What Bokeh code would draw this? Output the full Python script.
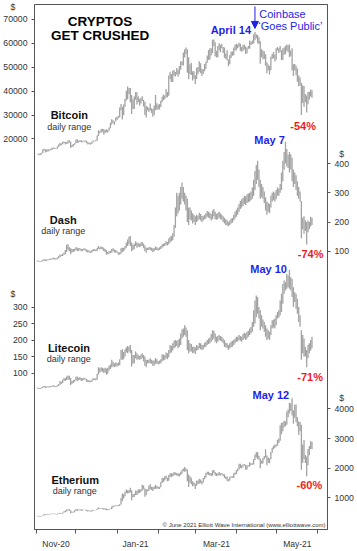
import pandas as pd
from bokeh.plotting import figure
from bokeh.models import (ColumnDataSource, Range1d, LinearAxis, FixedTicker,
                          DatetimeTickFormatter, Label, Arrow, NormalHead)
from bokeh.embed import file_html
from bokeh.resources import INLINE

# ---------------- data (daily low / high, Nov 1 2020 .. May 27 2021) ----------------
btc_low = [
    13570,13240,13300,13530,14090,15190,14390,14700,14810,15100,15290,15430,15960,15790,15800,15890,16630,17220,17350,17770,18350,17700,18040,18030,18550,16330,16510,16880,17570,18180,
    18330,18580,18930,18620,18600,18970,18890,18220,17650,17930,17570,17990,18790,19090,19060,19280,21230,22370,22750,23060,21900,22370,22800,22760,23450,24540,26050,26700,25950,27330,27970,
    28700,29040,32010,28130,29910,33450,36080,36570,38720,35360,30420,32530,32550,36390,34410,35400,33870,34880,35880,33560,30070,28950,31920,31400,31930,30890,29320,30050,32000,32300,32200,
    32300,33420,35360,36190,36610,37360,37450,38060,45010,43880,43800,46400,46120,46930,45980,47050,48990,50880,50770,54060,55550,47700,45000,47100,46800,44450,45200,43000,
    45100,47090,48100,47500,46300,47200,48320,49300,51900,53000,53200,54900,56000,58900,54600,54100,54200,57100,56300,57900,56000,54000,53500,52900,50400,51300,53900,54800,55000,57000,57100,
    57900,58600,56900,56500,56900,57400,55500,55900,57700,57700,59300,59700,59900,61300,62100,60000,59700,51500,54200,53400,53500,50600,47500,48800,47000,48800,53500,53900,52400,53100,
    57000,56000,56500,53000,53000,55200,55400,56900,56300,54200,54600,48600,46300,48800,46700,43900,42100,42300,30000,35100,33500,35400,31100,34500,36500,37800,37200]
btc_high = [
    13860,13820,14070,14240,15750,15960,15740,15650,15830,15450,15960,16310,16480,16300,16120,16880,17830,18400,18110,18800,18950,18700,18750,19400,19460,18920,17450,17860,18350,19750,
    19850,19300,19560,19500,19180,19400,19400,19300,18650,18540,18280,18930,19400,19310,19560,21500,23700,23280,24170,24260,24060,23800,24070,23790,24790,26800,28300,27800,27360,28950,29300,
    29600,33150,34600,33440,34440,36850,40180,41950,41350,41350,38350,36600,37780,39670,39570,37890,36820,37300,37830,36400,35560,33760,33450,32940,34800,32890,32550,34000,38400,34900,34300,
    34650,35970,37630,38590,38230,40880,39680,46600,48150,47230,48560,48820,48010,49700,49000,50550,52500,52500,56200,57500,58300,57500,54200,51300,51900,48300,48300,46700,
    49800,50100,52500,51700,49400,49200,51400,52300,54900,57200,58000,57900,61500,61600,60500,56900,58900,60000,59400,59800,58500,58300,55800,57100,53200,55100,56500,56600,58300,59400,59800,
    59500,60200,59800,58500,59300,59500,58700,58200,58900,61200,60700,61200,63800,64800,63800,63500,62500,61000,57500,57000,56700,55400,52100,51200,50500,54400,55500,56400,55200,58000,
    58500,57900,58900,57100,57900,58300,59000,59500,59200,59500,57000,58000,51300,51400,50600,49500,46600,45700,43500,42400,42200,38800,38200,39700,39800,40700,40400]

dash_low = [
    66,64,64,64,66,68,67,68,69,70,71,72,73,72,72,73,76,80,83,84,88,90,98,105,100,90,96,98,100,104,
    100,102,104,100,101,104,103,98,96,97,94,96,100,101,100,101,108,106,108,106,100,98,88,90,92,94,96,100,96,96,94,
    88,89,92,98,100,106,112,118,125,118,100,104,108,118,112,116,114,116,118,110,100,96,104,104,104,102,98,100,104,104,102,
    104,108,112,116,118,122,120,124,130,134,138,150,180,220,230,240,260,280,270,260,240,200,190,210,205,195,200,190,
    200,205,210,205,200,205,210,212,218,215,212,205,210,220,210,208,210,215,210,208,200,195,190,188,186,190,195,198,205,212,218,
    225,235,245,250,255,262,258,265,268,270,275,280,290,310,330,345,320,280,285,280,265,240,225,235,230,250,270,275,270,278,
    290,290,300,310,340,380,400,390,385,370,380,340,320,330,310,290,280,270,145,175,160,170,123,165,175,185,190]
dash_high = [
    69,68,67,68,71,73,72,72,73,74,75,76,78,77,76,79,84,89,88,92,96,104,122,124,115,110,108,108,109,114,
    113,110,111,108,108,110,109,106,104,103,100,104,108,107,106,112,118,114,116,115,112,108,104,98,100,102,108,110,106,104,100,
    96,97,110,112,112,118,130,140,150,152,130,122,126,134,130,128,126,130,132,126,120,112,112,114,115,112,110,110,116,114,110,
    114,118,124,126,128,134,132,144,150,152,162,190,250,300,290,300,320,335,320,300,290,280,250,250,240,230,225,220,
    225,222,232,228,222,220,225,230,238,235,232,228,240,245,235,228,232,235,230,225,220,215,210,206,200,205,212,214,225,235,242,
    250,262,272,278,282,290,288,295,298,300,305,318,345,375,395,410,380,345,330,320,305,285,270,265,262,290,300,305,300,310,
    318,315,330,370,410,440,475,450,430,440,432,420,380,370,360,340,320,305,272,215,220,205,200,205,200,218,215]

ltc_low = [
    53,52,52,53,55,57,55,56,56,57,57,58,59,58,58,59,61,65,67,70,77,76,79,80,80,64,68,70,74,78,
    76,78,80,76,77,80,80,74,72,73,72,74,78,79,78,80,96,102,105,104,100,102,95,98,108,112,118,120,118,120,120,
    122,124,140,140,142,150,162,160,165,160,120,128,130,145,140,142,140,142,145,135,122,118,130,130,130,128,122,122,128,128,126,
    128,130,136,138,140,145,142,148,160,162,168,175,178,182,175,180,185,205,210,215,210,170,160,165,165,160,162,158,
    168,170,175,172,170,172,178,180,185,188,190,195,200,205,195,190,195,200,198,196,190,180,178,175,170,175,178,180,185,190,195,
    196,200,198,195,200,205,200,205,210,215,220,225,240,250,270,280,265,230,240,235,225,210,200,205,200,215,235,238,235,245,
    265,268,275,285,310,340,350,355,360,355,350,330,300,315,295,280,255,240,140,160,150,150,118,145,160,168,175]
ltc_high = [
    56,55,55,56,59,62,60,59,60,60,60,62,63,62,61,63,67,76,74,80,86,84,90,93,92,86,76,78,80,89,
    90,86,88,85,84,86,84,82,79,78,77,80,85,83,84,98,118,115,118,116,114,116,114,116,122,126,140,134,130,132,130,
    132,142,170,172,164,172,178,182,180,185,170,155,155,165,160,155,152,156,160,155,150,140,140,140,145,140,138,138,146,142,136,
    138,142,156,156,154,162,160,170,185,182,190,198,200,198,200,205,220,232,235,245,238,230,200,190,188,180,180,178,
    185,182,192,190,186,185,192,195,200,205,208,218,230,228,220,210,212,215,212,210,205,200,192,190,185,190,195,198,200,205,210,
    210,215,212,210,218,222,220,225,228,235,240,255,290,320,335,330,300,290,275,262,255,245,235,230,225,245,260,262,265,275,
    285,290,320,340,370,380,375,400,395,413,390,385,360,345,340,325,300,275,230,215,205,180,170,185,190,200,210]

eth_low = [
    381,375,370,375,398,410,430,436,440,443,448,452,455,448,445,445,460,470,465,470,505,520,540,580,560,480,500,505,515,570,
    570,575,585,565,570,590,585,560,530,560,535,545,565,580,580,590,630,625,640,630,600,600,580,585,600,620,630,680,710,720,730,
    715,730,780,890,980,1060,1170,1150,1170,1180,920,1020,1030,1100,1100,1150,1170,1210,1240,1290,1040,1090,1220,1240,1290,1270,1230,1290,1300,1320,1310,
    1300,1360,1500,1540,1590,1640,1560,1580,1710,1700,1730,1760,1780,1760,1740,1720,1770,1820,1900,1880,1900,1560,1370,1510,1460,1390,1420,1300,
    1410,1470,1480,1500,1450,1520,1630,1690,1790,1770,1760,1730,1760,1840,1760,1740,1760,1760,1760,1790,1740,1670,1640,1580,1550,1590,1680,1680,1670,1790,1800,
    1900,1960,2010,1990,2050,2090,1950,1960,2060,2060,2110,2120,2130,2280,2360,2310,2290,2000,2150,2160,2300,2360,2100,2190,2170,2300,2520,2640,2680,2730,
    2760,2850,2930,3150,3250,3380,3420,3470,3720,3850,3930,3780,3500,3700,3550,3420,3120,3250,1950,2190,2300,2180,1730,2100,2440,2650,2640]
eth_high = [
    397,398,390,395,418,455,456,460,462,455,467,470,478,467,458,466,485,500,485,512,550,575,610,620,615,580,530,530,580,620,
    630,600,620,617,600,605,600,600,580,580,570,580,600,595,595,640,675,655,660,660,650,640,640,615,630,645,710,745,740,755,755,
    750,790,1000,1150,1120,1210,1280,1260,1260,1340,1260,1120,1140,1250,1240,1280,1290,1290,1440,1420,1320,1290,1280,1410,1470,1380,1370,1380,1440,1400,1380,
    1380,1540,1680,1670,1730,1760,1680,1770,1830,1830,1820,1870,1860,1840,1830,1820,1880,1950,1990,2040,1990,1960,1790,1730,1680,1560,1520,1480,
    1580,1590,1650,1620,1560,1670,1740,1840,1880,1880,1840,1840,1930,1940,1870,1830,1830,1870,1830,1840,1810,1800,1720,1720,1630,1710,1730,1730,1830,1860,1940,
    1990,2150,2150,2100,2130,2140,2120,2100,2100,2200,2170,2170,2310,2460,2540,2550,2420,2330,2260,2350,2410,2640,2430,2360,2340,2550,2690,2760,2800,2800,
    2960,3000,3450,3530,3550,3600,3580,3910,3980,4200,4190,4360,3960,4140,4150,3720,3580,3560,3470,2800,2950,2450,2400,2650,2750,2910,2890]

btc_ticks = [20000, 30000, 40000, 50000, 60000, 70000]
dash_ticks = [100, 200, 300, 400]
ltc_ticks = [100, 150, 200, 250, 300]
eth_ticks = [1000, 2000, 3000, 4000]
month_edges = ["2020-10-31", "2020-11-30", "2020-12-31", "2021-01-31",
               "2021-02-28", "2021-03-31", "2021-04-30", "2021-05-31"]
month_labels = {"2020-11-15": "Nov-20", "2021-01-14": "Jan-21",
                "2021-03-16": "Mar-21", "2021-05-16": "May-21"}

# ---------------- setup ----------------
GRAY = "#a3a3a3"
AXIS = "#555555"
BLUE = "#1f1fe6"
RED = "#f01c1c"
FONT = "Liberation Sans"

day0 = pd.Timestamp("2020-11-01")
dates = pd.date_range(day0, periods=len(btc_low), freq="D")


def ms(ts):
    return pd.Timestamp(ts).value / 1e6


x_rng = Range1d(ms(day0 - pd.Timedelta(days=2.25)), ms(day0 + pd.Timedelta(days=218.7)))
btc_rng = Range1d(-143333, 76250)
dash_rng = Range1d(-852, 944.5)
ltc_rng = Range1d(-373.6, 1216)
eth_rng = Range1d(-65, 17639)

p = figure(width=357, height=551, x_axis_type="datetime", x_range=x_rng, y_range=btc_rng,
           output_backend="svg", toolbar_location=None,
           min_border_left=32, min_border_right=30, min_border_top=4, min_border_bottom=20)
p.extra_y_ranges = {"dash": dash_rng, "ltc": ltc_rng, "eth": eth_rng}
p.xgrid.visible = False
p.ygrid.visible = False
p.outline_line_color = AXIS
p.outline_line_width = 1
p.background_fill_color = "white"
p.border_fill_color = "white"

for name, lo, hi in [("btc", btc_low, btc_high), ("dash", dash_low, dash_high),
                     ("ltc", ltc_low, ltc_high), ("eth", eth_low, eth_high)]:
    src = ColumnDataSource(dict(date=dates, low=lo, high=hi))
    kw = {} if name == "btc" else {"y_range_name": name}
    p.segment(x0="date", y0="low", x1="date", y1="high", source=src,
              line_color=GRAY, line_width=1.3, **kw)

# frame pixel geometry used for placing annotations
FL, FR, FT, FB = 32, 327, 4, 531


def conv(v, src, dst):
    return round(dst.start + (v - src.start) / (src.end - src.start) * (dst.end - dst.start), 4)


def YR(py, rng):
    return round(rng.end - (py - FT) / (FB - FT) * (rng.end - rng.start), 4)


def XP(px):
    return x_rng.start + (px - FL) / (FR - FL) * (x_rng.end - x_rng.start)


def YP(py):
    return YR(py, btc_rng)


def build_axis(ax, groups, dollars, dollar_text):
    """groups: list of (ticks, positions); dollars: positions of '$' labels."""
    marks, ov = [], {}
    for ticks, pos in groups:
        for t, q in zip(ticks, pos):
            marks.append(float(q))
            ov[float(q)] = str(t)
    for q in dollars:
        ov[float(q)] = dollar_text
    ax.ticker = FixedTicker(ticks=marks + [float(q) for q in dollars], minor_ticks=marks)
    ax.major_label_overrides = ov
    ax.axis_line_color = AXIS
    ax.major_tick_line_color = None
    ax.major_tick_out = 0
    ax.major_tick_in = 0
    ax.minor_tick_line_color = AXIS
    ax.minor_tick_out = 3
    ax.minor_tick_in = 0
    ax.major_label_standoff = 4
    ax.major_label_text_font = FONT
    ax.major_label_text_font_size = "8.7px"
    ax.major_label_text_color = "#333333"


# left axis: Bitcoin + Litecoin
left = p.yaxis[0]
build_axis(left,
           [(btc_ticks, btc_ticks), (ltc_ticks, [conv(v, ltc_rng, btc_rng) for v in ltc_ticks])],
           [YR(7, btc_rng), YR(295, btc_rng)], "$\u2007\u2007\u2008")

# right axis: Dash + Etherium
right = LinearAxis(y_range_name="dash")
build_axis(right,
           [(dash_ticks, dash_ticks), (eth_ticks, [conv(v, eth_rng, dash_rng) for v in eth_ticks])],
           [YR(154, dash_rng), YR(399, dash_rng)], "\u2007$")
p.add_layout(right, "right")

# bottom axis
xa = p.xaxis[0]
lab_ms = [ms(d) for d in month_labels]
xa.ticker = FixedTicker(ticks=lab_ms, minor_ticks=[ms(d) for d in month_edges])
xa.formatter = DatetimeTickFormatter(days="%b-%y", months="%b-%y", years="%b-%y")
xa.major_label_overrides = {m: t for m, t in zip(lab_ms, month_labels.values())}
xa.axis_line_color = AXIS
xa.major_tick_line_color = None
xa.major_tick_out = 0
xa.major_tick_in = 0
xa.minor_tick_line_color = AXIS
xa.minor_tick_out = 4
xa.minor_tick_in = 0
xa.major_label_standoff = 5
xa.major_label_text_font = FONT
xa.major_label_text_font_size = "8.5px"
xa.major_label_text_color = "#333333"

# ---------------- annotations ----------------
notes = [
    ("CRYPTOS", 98, 21, "13.5px", "bold", "black", "center"),
    ("GET CRUSHED", 98, 35, "13.5px", "bold", "black", "center"),
    ("Bitcoin", 67, 115, "11px", "bold", "#111111", "center"),
    ("daily range", 67, 127, "9px", "normal", "#333333", "center"),
    ("Dash", 61, 220.7, "11px", "bold", "#111111", "center"),
    ("daily range", 61, 231.7, "9px", "normal", "#333333", "center"),
    ("Litecoin", 66.7, 348.7, "11px", "bold", "#111111", "center"),
    ("daily range", 66.5, 360, "9px", "normal", "#333333", "center"),
    ("Etherium", 73, 481, "11px", "bold", "#111111", "center"),
    ("daily range", 72.5, 492, "9px", "normal", "#333333", "center"),
    ("April 14", 250, 30, "11px", "bold", BLUE, "right"),
    ("Coinbase", 258.3, 14, "11px", "normal", BLUE, "left"),
    ("\u2018Goes Public\u2019", 257.3, 26, "11px", "normal", BLUE, "left"),
    ("-54%", 302.5, 125.5, "11px", "bold", RED, "center"),
    ("May 7", 268.7, 140, "11px", "bold", BLUE, "center"),
    ("-74%", 310, 254, "11px", "bold", RED, "center"),
    ("May 10", 267.7, 269.5, "11px", "bold", BLUE, "center"),
    ("-71%", 309.5, 377.7, "11px", "bold", RED, "center"),
    ("May 12", 270, 396, "11px", "bold", BLUE, "center"),
    ("-60%", 308.7, 486.7, "11px", "bold", RED, "center"),
    ("\u00a9 June 2021 Elliott Wave International (www.elliottwave.com)", 325, 526,
     "6px", "normal", "#333333", "right"),
]
for txt, px, py, size, style, color, align in notes:
    p.add_layout(Label(x=XP(px), y=YP(py), text=txt, text_font=FONT, text_font_size=size,
                       text_font_style=style, text_color=color, text_align=align,
                       text_baseline="middle"))

apr14 = ms("2021-04-14")
p.add_layout(Arrow(end=NormalHead(size=7, fill_color=BLUE, line_color=BLUE),
                   x_start=apr14, y_start=YP(6), x_end=apr14, y_end=YP(28),
                   line_color=BLUE, line_width=1))

open("out.html", "w").write(file_html(p, INLINE))
